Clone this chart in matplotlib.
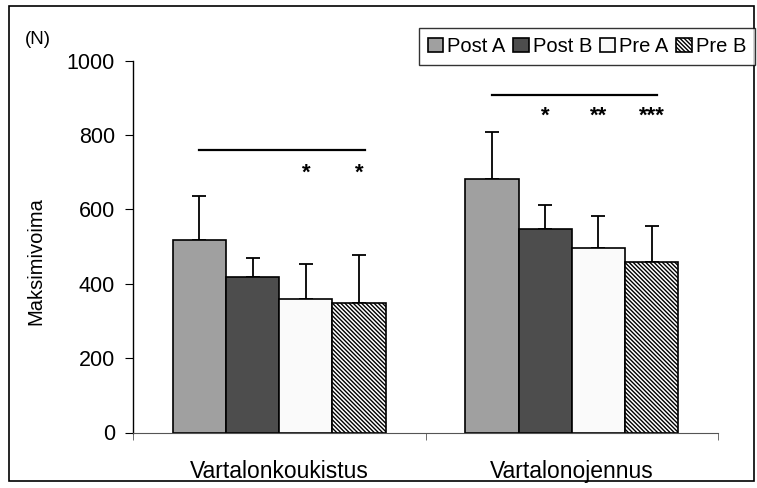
import matplotlib
matplotlib.use("Agg")
import matplotlib.pyplot as plt
from matplotlib.patches import Rectangle
import numpy as np

plt.rcParams['font.family'] = ['Liberation Sans', 'DejaVu Sans']
plt.rcParams['hatch.linewidth'] = 1.0

categories = ["Vartalonkoukistus", "Vartalonojennus"]
series = ["Post A", "Post B", "Pre A", "Pre B"]
means = {
    "Post A": [518, 681],
    "Post B": [419, 547],
    "Pre A": [359, 497],
    "Pre B": [348, 459],
}
sds = {
    "Post A": [118, 127],
    "Post B": [49, 64],
    "Pre A": [94, 85],
    "Pre B": [129, 97],
}
colors = {"Post A": "#a0a0a0", "Post B": "#4d4d4d", "Pre A": "#fafafa", "Pre B": "white"}
hatches = {"Post A": None, "Post B": None, "Pre A": None, "Pre B": "\\" * 8}

# significance bars: (category, level) and stars above (category, series, text, level)
sig_lines = [(0, 760), (1, 908)]
stars = [(0, "Pre A", "*", 683), (0, "Pre B", "*", 683),
         (1, "Post B", "*", 836), (1, "Pre A", "**", 836), (1, "Pre B", "***", 836)]

fig = plt.figure(figsize=(7.57, 4.88), dpi=100)
ax = fig.add_axes([133/757, 1-432.5/488, (718-133)/757, (432.5-60.7)/488])

x = np.arange(len(categories))
w = 0.182
offsets = {s: (i - 1.5) * w for i, s in enumerate(series)}

for s in series:
    ax.bar(x + offsets[s], means[s], w, color=colors[s], edgecolor="black",
           linewidth=1.2, hatch=hatches[s], label=s, zorder=2)
    ax.errorbar(x + offsets[s], means[s], yerr=[np.zeros(len(x)), sds[s]],
                fmt="none", ecolor="black", elinewidth=1.3, capsize=5,
                capthick=1.3, zorder=1)

for c, lvl in sig_lines:
    ax.plot([c + offsets["Post A"], c + offsets["Pre B"] + 0.02], [lvl, lvl],
            color="black", linewidth=1.6)
for c, s, txt, lvl in stars:
    ax.text(c + offsets[s], lvl, txt, ha="center", va="baseline", fontsize=16,
            fontweight="bold")

ax.set_xlim(-0.5, 1.5)
ax.set_ylim(0, 1000)
ax.set_yticks([0, 200, 400, 600, 800, 1000])
ax.set_xticks(x)
ax.set_xticklabels(categories, fontsize=16.5)
ax.set_xticks([-0.5, 0.5, 1.5], minor=True)
ax.tick_params(axis="x", which="major", length=0, pad=20)
ax.tick_params(axis="x", which="minor", length=5, color="#555555")
ax.tick_params(axis="y", labelsize=15.5, length=6, pad=7)
ax.set_ylabel("Maksimivoima", fontsize=14.5)
ax.yaxis.set_label_coords(-0.150, 0.461)

ax.spines["top"].set_visible(False)
ax.spines["right"].set_visible(False)
ax.spines["bottom"].set_color("#555555")
ax.spines["left"].set_linewidth(1.0)

fig.text(25/757, 1-40/488, "(N)", fontsize=13.5, va="center")

fig.legend(loc="upper right", bbox_to_anchor=(755/757, 1-28/488), ncol=4,
           fontsize=14.5, frameon=True, fancybox=False, edgecolor="black",
           handlelength=0.75, handleheight=0.75, handletextpad=0.2,
           columnspacing=0.4, borderpad=0.45, borderaxespad=0)

fig.patches.append(Rectangle((9/757, 1-481/488), (754-9)/757, (481-6)/488,
                             transform=fig.transFigure, fill=False,
                             edgecolor="black", linewidth=1.2))

fig.savefig("out.png", dpi=100)
